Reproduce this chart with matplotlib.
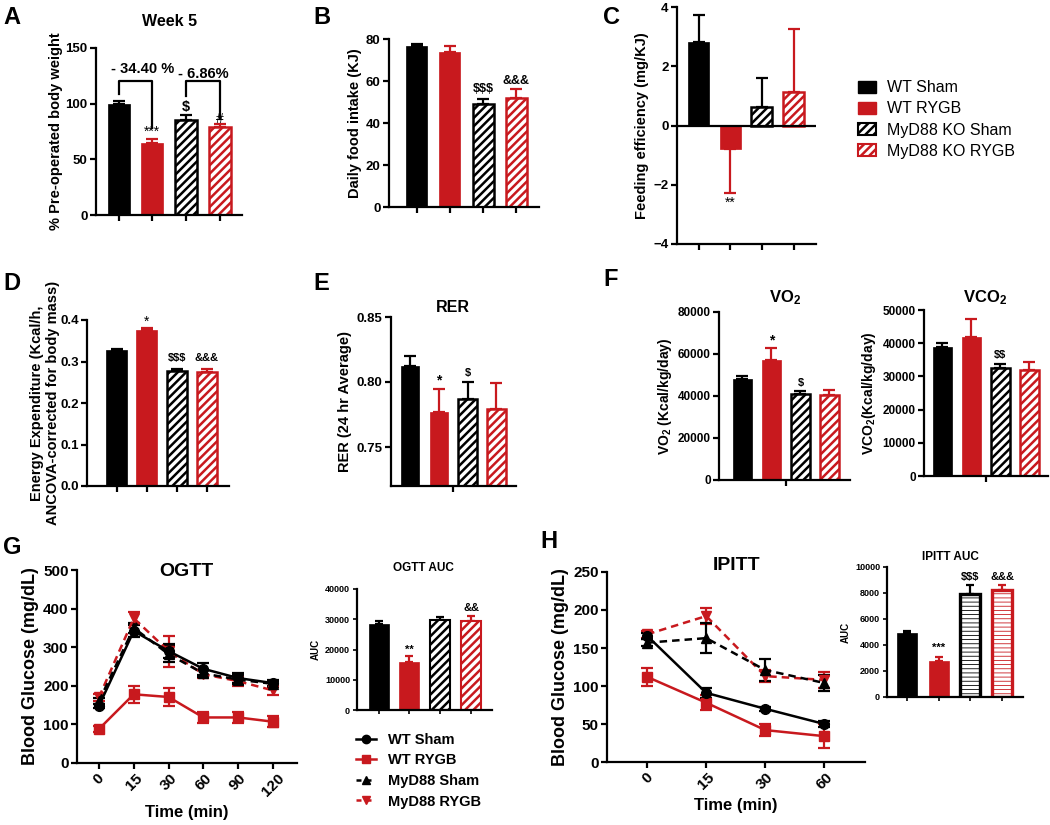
import matplotlib
matplotlib.use('Agg')
import matplotlib.pyplot as plt
from matplotlib.patches import Patch
from matplotlib.lines import Line2D
import numpy as np

plt.rcParams['font.family'] = ['Liberation Sans', 'DejaVu Sans']
plt.rcParams['font.weight'] = 'bold'
plt.rcParams['axes.labelweight'] = 'bold'
plt.rcParams['hatch.linewidth'] = 1.8
plt.rcParams['mathtext.fontset'] = 'custom'
plt.rcParams['mathtext.rm'] = 'Liberation Sans:bold'
plt.rcParams['mathtext.bf'] = 'Liberation Sans:bold'
plt.rcParams['mathtext.default'] = 'bf'

RED = '#C8191E'

#%% data
groups = ['WT Sham', 'WT RYGB', 'MyD88 KO Sham', 'MyD88 KO RYGB']

bw_mean = [100, 65, 85.5, 79]
bw_err = [2, 3, 4.5, 3]
food_mean = [76.5, 74, 49, 52]
food_err = [1.3, 2.5, 2.5, 4]
fe_mean = [2.82, -0.8, 0.62, 1.13]
fe_err = [0.9, 1.48, 0.98, 2.12]
ee_mean = [0.327, 0.376, 0.277, 0.275]
ee_err = [0.002, 0.005, 0.006, 0.007]
rer_mean = [0.812, 0.777, 0.787, 0.779]
rer_err = [0.008, 0.018, 0.013, 0.020]
vo2_mean = [48000, 57000, 41000, 40500]
vo2_err = [1500, 6000, 1500, 2500]
vco2_mean = [39000, 41800, 32500, 31800]
vco2_err = [1000, 5500, 1300, 2500]
ogtt_auc_mean = [28500, 16000, 29700, 29300]
ogtt_auc_err = [1000, 2000, 1100, 1700]
ipitt_auc_mean = [4900, 2750, 7900, 8250]
ipitt_auc_err = [200, 350, 750, 350]

ogtt_time = ['0', '15', '30', '60', '90', '120']
ogtt_wt_sham = [148, 342, 290, 244, 220, 207]
ogtt_wt_sham_err = [5, 15, 18, 15, 12, 8]
ogtt_wt_rygb = [88, 178, 171, 118, 118, 107]
ogtt_wt_rygb_err = [8, 22, 23, 15, 15, 15]
ogtt_ko_sham = [160, 350, 282, 232, 216, 205]
ogtt_ko_sham_err = [8, 12, 20, 10, 12, 8]
ogtt_ko_rygb = [170, 375, 290, 230, 212, 188]
ogtt_ko_rygb_err = [10, 15, 40, 10, 12, 12]

ipitt_time = ['0', '15', '30', '60']
ipitt_wt_sham = [166, 91, 70, 50]
ipitt_wt_sham_err = [4, 7, 3, 4]
ipitt_wt_rygb = [112, 78, 42, 34]
ipitt_wt_rygb_err = [12, 10, 8, 16]
ipitt_ko_sham = [157, 163, 121, 104]
ipitt_ko_sham_err = [5, 20, 15, 10]
ipitt_ko_rygb = [168, 192, 113, 108]
ipitt_ko_rygb_err = [5, 10, 8, 10]

#%% figure helpers
W, H = 1050, 825
fig = plt.figure(figsize=(W / 100, H / 100), dpi=100)


def add_ax(l, t, r, b):
    return fig.add_axes([l / W, 1 - b / H, (r - l) / W, (b - t) / H])


def ftext(x, y, s, **kw):
    fig.text(x / W, 1 - y / H, s, ha='center', va='center', **kw)


def mark(ax, x, y, s, fs=9, weight='bold'):
    ax.text(x, y, s, ha='center', va='center', fontsize=fs, fontweight=weight,
            parse_math=False)


def style(ax, xlim, ylim, yticks, ylabel, fs_tick=9.5, fs_label=10.5, ylabels=None, pad=3):
    ax.set_xlim(xlim)
    ax.set_ylim(ylim)
    ax.set_yticks(yticks)
    if ylabels is not None:
        ax.set_yticklabels(ylabels)
    for s in ['top', 'right']:
        ax.spines[s].set_visible(False)
    for s in ['left', 'bottom']:
        ax.spines[s].set_linewidth(1.6)
    ax.tick_params(width=1.6, length=4, labelsize=fs_tick, pad=2)
    ax.set_ylabel(ylabel, fontsize=fs_label, labelpad=pad)


def bars(ax, means, errs, width=0.65, hatch='////', cap=4, elw=1.8, hlw=None):
    for i in range(4):
        c = 'black' if i % 2 == 0 else RED
        m, e = means[i], errs[i]
        if i < 2:
            ax.bar(i, m, width=width, color=c, edgecolor=c, linewidth=0.5, zorder=2)
        else:
            b = ax.bar(i, m, width=width, facecolor='white', edgecolor=c,
                       hatch=hatch, linewidth=elw, zorder=2)
            if hlw is not None:
                for p in b:
                    if hasattr(p, 'set_hatch_linewidth'):
                        p.set_hatch_linewidth(hlw)
                    else:
                        p._hatch_linewidth = hlw
        yerr = [[0], [e]] if m >= 0 else [[e], [0]]
        ax.errorbar(i, m, yerr=yerr, color=c, capsize=cap, elinewidth=1.6,
                    capthick=1.6, zorder=1)
    ax.set_xticks(range(4))
    ax.set_xticklabels([])


#%% A: body weight
ax = add_ax(96, 48, 242, 215)
bars(ax, bw_mean, bw_err)
style(ax, (-0.67, 3.66), (0, 150), [0, 50, 100, 150], '% Pre-operated body weight', pad=2)
ax.plot([0, 0, 1, 1], [109, 120, 120, 78], color='k', lw=1.6)
ax.plot([2, 2, 3, 3], [107, 120, 120, 86], color='k', lw=1.6)
mark(ax, 0.71, 131, '- 34.40 %', fs=10.5)
mark(ax, 2.5, 127, '- 6.86%', fs=10.5)
mark(ax, 1, 75, '***', fs=10, weight='normal')
mark(ax, 2, 97, '$', fs=10.5)
mark(ax, 3, 86.5, '#', fs=10, weight='normal')
ftext(170, 22, 'Week 5', fontsize=11.5)

#%% B: food intake
ax = add_ax(389, 39, 539, 207)
bars(ax, food_mean, food_err, width=0.63)
style(ax, (-0.83, 3.68), (0, 80), [0, 20, 40, 60, 80], 'Daily food intake (KJ)')
mark(ax, 2, 56, '$$$')
mark(ax, 3, 60, '&&&')

#%% C: feeding efficiency
ax = add_ax(677, 7, 816, 244)
bars(ax, fe_mean, fe_err, width=0.66)
style(ax, (-0.68, 3.71), (-4, 4), [-4, -2, 0, 2, 4], 'Feeding efficiency (mg/KJ)')
ax.axhline(0, color='k', lw=1.6, zorder=3)
mark(ax, 1, -2.62, '**', fs=10, weight='normal')

handles = [Patch(facecolor='black', edgecolor='black'),
           Patch(facecolor=RED, edgecolor=RED),
           Patch(facecolor='white', edgecolor='black', hatch='////', linewidth=1.5),
           Patch(facecolor='white', edgecolor=RED, hatch='////', linewidth=1.5)]
fig.legend(handles, groups, loc='upper left', bbox_to_anchor=(852 / W, 1 - 74 / H),
           frameon=False, prop={'weight': 'normal', 'size': 11.5},
           handlelength=1.1, handleheight=0.8, labelspacing=0.38, handletextpad=0.7,
           borderaxespad=0)

#%% D: energy expenditure
ax = add_ax(87, 320, 229, 486)
bars(ax, ee_mean, ee_err, width=0.68)
style(ax, (-0.98, 3.73), (0, 0.4), [0, 0.1, 0.2, 0.3, 0.4],
      'Energy Expenditure (Kcal/h,\nANCOVA-corrected for body mass)',
      ylabels=['0.0', '0.1', '0.2', '0.3', '0.4'], pad=0)
mark(ax, 1, 0.395, '*', fs=10, weight='normal')
mark(ax, 2, 0.308, '$$$', fs=8)
mark(ax, 3, 0.308, '&&&', fs=8)

#%% E: RER
ax = add_ax(391, 317, 516, 486)
bars(ax, rer_mean, rer_err, width=0.64)
style(ax, (-0.66, 3.68), (0.72, 0.85), [0.75, 0.80, 0.85], 'RER (24 hr Average)',
      ylabels=['0.75', '0.80', '0.85'])
ax.set_xticks([1.5])
mark(ax, 1, 0.8015, '*', fs=10)
mark(ax, 2, 0.807, '$', fs=8)
ftext(453, 308, 'RER', fontsize=11.5)

#%% F: VO2 / VCO2
ax = add_ax(719, 312, 850, 480)
bars(ax, vo2_mean, vo2_err, width=0.66)
style(ax, (-0.81, 3.71), (0, 80000), [0, 20000, 40000, 60000, 80000],
      'VO$_2$ (Kcal/kg/day)', fs_tick=8.5, fs_label=10)
ax.set_xticks([1.5])
mark(ax, 1, 66300, '*', fs=10)
mark(ax, 2, 46300, '$', fs=8)
ftext(785, 298, 'VO$_2$', fontsize=12)

ax = add_ax(924, 310, 1048, 476)
bars(ax, vco2_mean, vco2_err, width=0.65)
style(ax, (-0.64, 3.65), (0, 50000), [0, 10000, 20000, 30000, 40000, 50000],
      'VCO$_2$(Kcal/kg/day)', fs_tick=8.5, fs_label=10)
ax.set_xticks([1.5])
mark(ax, 2, 36450, '$$', fs=8)
ftext(985, 298, 'VCO$_2$', fontsize=12)


#%% G / H: tolerance curves
def curves(ax, times, series):
    x = np.arange(len(times))
    for y, e, c, mk, ls in series:
        line = ax.errorbar(x, y, yerr=e, color=c, marker=mk, linestyle=ls, lw=1.8,
                           markersize=7, capsize=4, elinewidth=1.6, capthick=1.6)
        if ls == '--':
            line[0].set_dashes((3, 2))
    ax.set_xticks(x)
    ax.set_xticklabels(times, rotation=45, fontsize=11)


ax = add_ax(77, 570, 297, 763)
curves(ax, ogtt_time, [(ogtt_ko_rygb, ogtt_ko_rygb_err, RED, 'v', '--'),
                       (ogtt_ko_sham, ogtt_ko_sham_err, 'black', '^', '--'),
                       (ogtt_wt_rygb, ogtt_wt_rygb_err, RED, 's', '-'),
                       (ogtt_wt_sham, ogtt_wt_sham_err, 'black', 'o', '-')])
style(ax, (-0.63, 5.69), (0, 500), [0, 100, 200, 300, 400, 500],
      'Blood Glucose (mg/dL)', fs_tick=11, fs_label=13)
ax.tick_params(axis='x', labelsize=11)
ax.set_xlabel('Time (min)', fontsize=12)
ftext(186, 572, 'OGTT', fontsize=14)

ax = add_ax(357, 589, 492, 710)
bars(ax, ogtt_auc_mean, ogtt_auc_err, width=0.65, cap=3, elw=1.5)
style(ax, (-0.7, 3.68), (0, 40000), [0, 10000, 20000, 30000, 40000], 'AUC',
      fs_tick=6.5, fs_label=7)
ax.tick_params(width=1.2, length=3)
mark(ax, 1, 19800, '**', fs=8)
mark(ax, 3, 33700, '&&', fs=8)
ftext(423, 568, 'OGTT AUC', fontsize=8.5)

fig.legend([Line2D([], [], color='black', marker='o', ls='-', lw=1.8, ms=6),
            Line2D([], [], color=RED, marker='s', ls='-', lw=1.8, ms=6),
            Line2D([], [], color='black', marker='^', ls='--', lw=1.8, ms=6, dashes=(2, 2)),
            Line2D([], [], color=RED, marker='v', ls='--', lw=1.8, ms=6, dashes=(2, 2))],
           ['WT Sham', 'WT RYGB', 'MyD88 Sham', 'MyD88 RYGB'],
           loc='upper left', bbox_to_anchor=(350 / W, 1 - 727 / H), frameon=False,
           prop={'weight': 'bold', 'size': 10.5}, handlelength=1.4,
           labelspacing=0.45, handletextpad=0.8, borderaxespad=0)

ax = add_ax(607, 572, 865, 762)
curves(ax, ipitt_time, [(ipitt_ko_rygb, ipitt_ko_rygb_err, RED, 'v', '--'),
                        (ipitt_ko_sham, ipitt_ko_sham_err, 'black', '^', '--'),
                        (ipitt_wt_rygb, ipitt_wt_rygb_err, RED, 's', '-'),
                        (ipitt_wt_sham, ipitt_wt_sham_err, 'black', 'o', '-')])
style(ax, (-0.68, 3.69), (0, 250), [0, 50, 100, 150, 200, 250],
      'Blood Glucose (mg/dL)', fs_tick=11, fs_label=13)
ax.tick_params(axis='x', labelsize=11)
ax.set_xlabel('Time (min)', fontsize=12)
ftext(737, 566, 'IPITT', fontsize=14)

ax = add_ax(887, 567, 1023, 697)
bars(ax, ipitt_auc_mean, ipitt_auc_err, width=0.63, hatch='----', cap=3, elw=2.4, hlw=0.6)
style(ax, (-0.63, 3.66), (0, 10000), [0, 2000, 4000, 6000, 8000, 10000], 'AUC',
      fs_tick=6.5, fs_label=7)
ax.tick_params(width=1.2, length=3)
mark(ax, 1, 3770, '***', fs=8)
mark(ax, 2, 9250, '$$$', fs=8)
mark(ax, 3, 9250, '&&&', fs=8)
ftext(950, 557, 'IPITT AUC', fontsize=8.5)

#%% panel letters
for letter, x, y in [('A', 12, 17), ('B', 322, 17), ('C', 612, 17), ('D', 12, 283),
                     ('E', 321, 283), ('F', 611, 280), ('G', 12, 547), ('H', 549, 542)]:
    ftext(x, y, letter, fontsize=17)

fig.savefig('out.png', dpi=100)
